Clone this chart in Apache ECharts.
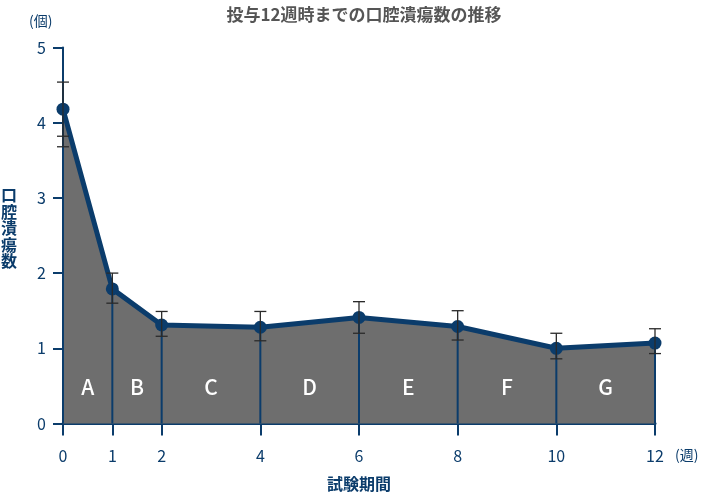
<!DOCTYPE html>
<html><head><meta charset="utf-8">
<script src="https://cdn.jsdelivr.net/npm/echarts@6/dist/echarts.min.js"></script>
<style>html,body{margin:0;padding:0;background:#fff}#c{width:701px;height:495px}</style>
</head><body><div id="c"></div>
<script>
const weeks = [0, 1, 2, 4, 6, 8, 10, 12];
const ulcers = [4.18, 1.79, 1.31, 1.28, 1.41, 1.29, 1.00, 1.07];
const errHigh = [4.54, 2.00, 1.49, 1.49, 1.62, 1.50, 1.20, 1.26];
const errLow = [3.82, 1.60, 1.16, 1.10, 1.20, 1.11, 0.86, 0.93];
const extraCaps = [[0, 3.68]];
const periodLabels = ['A', 'B', 'C', 'D', 'E', 'F', 'G'];
const periodCenters = [0.5, 1.5, 3, 5, 7, 9, 11];
const periodLabelY = 0.48;
const yTicks = [0, 1, 2, 3, 4, 5];

const NAVY = '#0b3c6b';
const FONT = '"Noto Sans CJK JP", "Noto Sans", sans-serif';
const chart = echarts.init(document.getElementById('c'));

const lineData = weeks.map((w, i) => [w, ulcers[i]]);
const errData = weeks.map((w, i) => [w, errLow[i], errHigh[i]]);

chart.setOption({
  animation: false,
  title: {
    text: '投与12週時までの口腔潰瘍数の推移',
    left: 359, top: 1, textAlign: 'center',
    textStyle: { fontFamily: FONT, fontSize: 17, fontWeight: 'bold', color: '#555' }
  },
  grid: { left: 63, right: 46, top: 47.5, bottom: 71.5, outerBoundsMode: 'none', containLabel: false },
  xAxis: {
    type: 'value', min: 0, max: 12,
    splitLine: { show: false },
    axisLine: { lineStyle: { color: NAVY, width: 3 } },
    axisTick: { show: true, customValues: weeks, length: 12, lineStyle: { color: NAVY, width: 2 } },
    axisLabel: { customValues: weeks, margin: 24, color: NAVY, fontSize: 16, fontFamily: FONT },
    name: '試験期間', nameLocation: 'middle', nameGap: 52,
    nameTextStyle: { color: NAVY, fontSize: 16, fontWeight: 'bold', fontFamily: FONT }
  },
  yAxis: {
    type: 'value', min: 0, max: 5, interval: 1,
    splitLine: { show: false },
    axisLine: { show: true, lineStyle: { color: NAVY, width: 2 } },
    axisTick: { show: true, length: 10, lineStyle: { color: NAVY, width: 2 } },
    axisLabel: { customValues: yTicks, color: NAVY, fontSize: 16, fontFamily: FONT, margin: 17 }
  },
  graphic: [
    { type: 'text', left: 1, top: 187, style: { text: '口\n腔\n潰\n瘍\n数', fill: NAVY, font: 'bold 16px ' + FONT, lineHeight: 16.5 } },
    { type: 'text', left: 29, top: 14, style: { text: '(個)', fill: NAVY, font: '14px ' + FONT } },
    { type: 'text', left: 675, top: 448, style: { text: '(週)', fill: NAVY, font: '14px ' + FONT } }
  ],
  series: [
    {
      type: 'line', data: lineData, z: 2,
      lineStyle: { color: NAVY, width: 5 },
      itemStyle: { color: NAVY },
      symbol: 'circle', symbolSize: 13,
      areaStyle: { color: '#6e6e6e', opacity: 1 }
    },
    {
      type: 'custom', data: lineData, z: 3,
      renderItem: (params, api) => {
        const top = api.coord([api.value(0), api.value(1)]);
        const bot = api.coord([api.value(0), 0]);
        return { type: 'line', shape: { x1: top[0], y1: top[1], x2: bot[0], y2: bot[1] }, style: { stroke: NAVY, lineWidth: 2 } };
      }
    },
    {
      type: 'custom', data: errData, z: 4,
      renderItem: (params, api) => {
        const lo = api.coord([api.value(0), api.value(1)]);
        const hi = api.coord([api.value(0), api.value(2)]);
        const s = { stroke: '#2a2a2a', lineWidth: 1.3 };
        const w = 6;
        return { type: 'group', children: [
          { type: 'line', shape: { x1: hi[0], y1: hi[1], x2: lo[0], y2: lo[1] }, style: s },
          { type: 'line', shape: { x1: hi[0] - w, y1: hi[1], x2: hi[0] + w, y2: hi[1] }, style: s },
          { type: 'line', shape: { x1: lo[0] - w, y1: lo[1], x2: lo[0] + w, y2: lo[1] }, style: s }
        ] };
      }
    },
    {
      type: 'custom', data: extraCaps, z: 4,
      renderItem: (params, api) => {
        const p = api.coord([api.value(0), api.value(1)]);
        const top = api.coord([api.value(0), errLow[0]]);
        const s = { stroke: '#2a2a2a', lineWidth: 1.3 };
        return { type: 'group', children: [
          { type: 'line', shape: { x1: p[0], y1: top[1], x2: p[0], y2: p[1] }, style: s },
          { type: 'line', shape: { x1: p[0] - 6, y1: p[1], x2: p[0] + 6, y2: p[1] }, style: s }
        ] };
      }
    },
    {
      type: 'custom', data: periodCenters.map((c, i) => [c, periodLabelY, periodLabels[i]]), z: 5,
      renderItem: (params, api) => {
        const p = api.coord([api.value(0), api.value(1)]);
        return { type: 'text', x: p[0], y: p[1], style: { text: periodLabels[params.dataIndex], fill: '#fff', font: '500 21px ' + FONT, align: 'center', verticalAlign: 'middle' } };
      }
    }
  ]
});
</script></body></html>
